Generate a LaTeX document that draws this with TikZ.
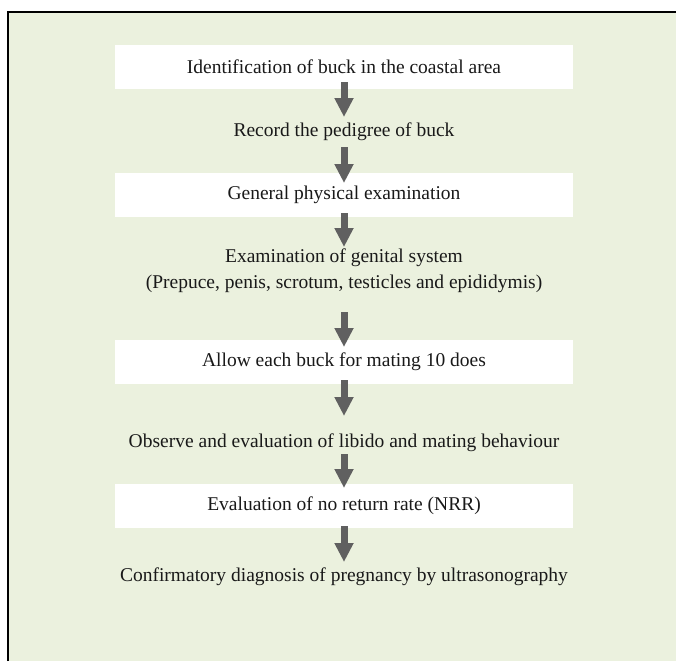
\documentclass[tikz,border=0pt]{standalone}
\usepackage{fontspec}
\setmainfont{Liberation Serif}
\usetikzlibrary{arrows.meta}
\definecolor{bggreen}{HTML}{EBF1DE}
\definecolor{arrowgray}{HTML}{606060}
\begin{document}
\begin{tikzpicture}[x=1pt,y=-1pt,
  box/.style={fill=white, minimum width=458pt, minimum height=44pt, inner sep=0pt, font=\fontsize{19.5}{26}\selectfont, text=black!90},
  plain/.style={inner sep=0pt, align=center, font=\fontsize{19.5}{26}\selectfont, text=black!90},
  flow/.style={draw=arrowgray, line width=7pt, -{Triangle[width=18pt,length=19pt,fill=arrowgray]}}]
\useasboundingbox (0,0) rectangle (676,661);
\fill[bggreen] (8,12) rectangle (676,661);
\draw[black, line width=1.4pt] (8,661) -- (8,12) -- (676,12);

\node[box]   (n1) at (344,67)  {Identification of buck in the coastal area};
\node[plain] (n2) at (344,132) {Record the pedigree of buck};
\node[box]   (n3) at (344,195) {General physical examination};
\node[plain] (n4) at (344,271) {Examination of genital system\\(Prepuce, penis, scrotum, testicles and epididymis)};
\node[box]   (n5) at (344,362) {Allow each buck for mating 10 does};
\node[plain] (n6) at (344,443) {Observe and evaluation of libido and mating behaviour};
\node[box]   (n7) at (344,506) {Evaluation of no return rate (NRR)};
\node[plain] (n8) at (344,577) {Confirmatory diagnosis of pregnancy by ultrasonography};

\draw[flow] ([yshift=-15pt]n1.center) -- ([yshift=15pt]n2.center);
\draw[flow] ([yshift=-15pt]n2.center) -- ([yshift=12pt]n3.center);
\draw[flow] ([yshift=-18pt]n3.center) -- ([yshift=24pt]n4.center);
\draw[flow] ([yshift=-41pt]n4.center) -- ([yshift=15pt]n5.center);
\draw[flow] ([yshift=-18pt]n5.center) -- ([yshift=27pt]n6.center);
\draw[flow] ([yshift=-11pt]n6.center) -- ([yshift=18pt]n7.center);
\draw[flow] ([yshift=-20pt]n7.center) -- ([yshift=15pt]n8.center);
\end{tikzpicture}
\end{document}
